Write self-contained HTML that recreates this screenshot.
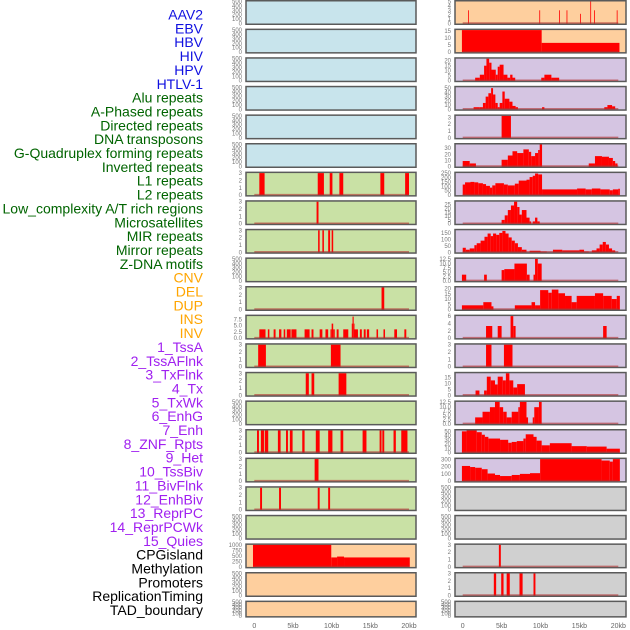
<!DOCTYPE html>
<html><head><meta charset="utf-8">
<style>
html,body{margin:0;padding:0;background:#fff;width:630px;height:630px;overflow:hidden}
svg{display:block}
</style></head>
<body>
<svg id="chart" width="630" height="630" xmlns="http://www.w3.org/2000/svg"></svg>
<script>
// ---- labels ----
const labelNames = ["AAV2","EBV","HBV","HIV","HPV","HTLV-1","Alu repeats","A-Phased repeats","Directed repeats","DNA transposons","G-Quadruplex forming repeats","Inverted repeats","L1 repeats","L2 repeats","Low_complexity A/T rich regions","Microsatellites","MIR repeats","Mirror repeats","Z-DNA motifs","CNV","DEL","DUP","INS","INV","1_TssA","2_TssAFlnk","3_TxFlnk","4_Tx","5_TxWk","6_EnhG","7_Enh","8_ZNF_Rpts","9_Het","10_TssBiv","11_BivFlnk","12_EnhBiv","13_ReprPC","14_ReprPCWk","15_Quies","CPGisland","Methylation","Promoters","ReplicationTiming","TAD_boundary"];
const labelGroups = ["v","v","v","v","v","v","r","r","r","r","r","r","r","r","r","r","r","r","r","s","s","s","s","s","c","c","c","c","c","c","c","c","c","c","c","c","c","c","c","o","o","o","o","o"];
const xTickValues = [0,5,10,15,20];
const xTickLabels = ["0","5kb","10kb","15kb","20kb"];

// ---- left column data: [startKb, endKb, value] ----
const L6 = [[0.65,1.33,3],[8.2,9.0,3],[9.75,10.1,3],[11.0,11.5,3],[16.3,16.8,3],[19.5,20.0,3]];
const L7 = [[8.05,8.3,3]];
const L8 = [[8.25,8.45,3],[8.8,9.0,3],[9.55,9.8,3],[10.0,10.2,3]];
const L10 = [[16.45,16.8,3]];
const L11 = [[0.65,1.45,3.5],[1.75,1.95,3.5],[2.5,2.75,3.5],[3.2,3.5,3.5],[3.8,4.0,3.5],[4.2,4.7,3.5],[4.8,5.45,3.5],[6.5,7.15,3.5],[7.4,7.65,3.5],[8.45,8.8,3.5],[9.2,9.55,3.5],[9.85,10.0,3.5],[10.0,10.2,5.8],[10.2,10.4,3.5],[10.65,10.9,3.5],[11.5,12.15,3.5],[12.6,12.7,5.8],[12.7,12.85,8.6],[12.85,12.95,5.8],[12.95,13.4,3.5],[13.65,13.9,3.5],[14.15,14.4,3.5],[14.55,14.85,3.5],[15.8,16.0,3.5],[16.7,16.9,3.5],[18.1,18.45,3.5],[19.4,19.65,3.5]];
const L12 = [[0.5,1.5,3],[9.9,11.15,3]];
const L13 = [[6.65,7.05,3],[7.4,7.75,3],[10.9,11.9,3]];
const L15 = [[0.35,0.6,3],[0.85,1.25,3],[1.35,1.8,3],[3.05,3.4,3],[4.1,4.35,3],[4.6,4.95,3],[6.2,6.5,3],[7.95,8.45,3],[9.55,10.1,3],[11.15,11.5,3],[14.0,14.5,3],[16.2,16.45,3],[16.55,16.8,3],[18.0,18.3,3],[19.0,19.8,3]];
const L16 = [[7.8,8.3,3]];
const L17 = [[0.75,1.0,3],[3.2,3.45,3],[8.2,8.45,3],[9.55,9.8,3]];
const L19 = [[-0.17,9.95,1000],[9.95,10.7,430],[10.7,11.6,470],[11.6,20.1,430]];

// ---- right column data ----
const R0 = [[0.7,0.8,3],[9.85,9.95,3],[12.4,12.5,3],[13.35,13.45,3],[15.1,15.2,2.2],[16.4,16.5,5],[16.9,17.0,3],[19.8,19.9,3]];
const R1 = [[-0.1,10.15,15.5],[10.15,20.15,6.5]];
const R2 = [[1.6,2.2,3],[2.2,2.75,6],[2.75,3.05,15],[3.05,3.4,22],[3.4,3.7,18],[3.7,4.25,11],[4.25,4.5,6],[4.5,4.75,14],[4.75,5.25,16],[5.25,5.75,6],[5.75,6.1,3],[6.1,6.4,6],[6.4,6.75,3],[10.1,10.5,3],[10.5,11.4,6],[11.4,12.4,3]];
const R3 = [[1.4,2.2,5],[2.2,2.6,5],[2.6,2.95,15],[2.95,3.3,30],[3.3,3.65,38],[3.65,3.9,50],[3.9,4.2,35],[4.2,4.5,15],[4.5,4.75,5],[4.75,5.1,15],[5.1,5.4,42],[5.4,6.0,25],[6.0,6.4,18],[6.4,6.8,8],[6.8,7.1,5],[10.2,10.5,5],[18.2,18.6,5],[18.6,19.2,10],[19.2,19.6,7]];
const R4 = [[5.0,6.2,3.2]];
const R5 = [[0,0.9,9],[0.9,1.7,5],[5.0,5.8,11],[5.8,6.4,18],[6.4,7.0,25],[7.0,7.8,22],[7.8,8.5,28],[8.5,8.8,24],[8.8,9.3,17],[9.3,9.7,22],[9.7,9.9,27],[9.9,10.2,36],[16.2,17.0,5],[17.0,17.9,17],[17.9,18.8,16],[18.8,19.3,14],[19.3,19.6,9],[19.6,19.9,5]];
const R6 = [[0,0.3,120],[0.3,1.0,145],[1.0,1.5,150],[1.5,2.0,145],[2.0,2.6,135],[2.6,3.0,125],[3.0,3.5,105],[3.5,3.8,85],[3.8,4.2,110],[4.2,5.3,135],[5.3,5.8,120],[5.8,6.7,110],[6.7,7.2,130],[7.2,8.2,165],[8.2,8.6,175],[8.6,9.0,205],[9.0,9.3,220],[9.3,9.7,245],[9.7,10.2,235],[10.2,14.7,65],[14.7,15.8,75],[15.8,16.6,65],[16.6,17.7,75],[17.7,18.9,65],[18.9,19.3,55],[19.3,20.0,65],[20.0,20.2,72]];
const R7 = [[5.0,5.4,5],[5.4,5.8,11],[5.8,6.2,18],[6.2,6.6,24],[6.6,7.0,29],[7.0,7.3,22],[7.3,7.6,12],[7.6,8.2,18],[8.2,8.6,8],[8.6,8.8,3],[9.0,9.3,3],[9.3,9.6,8],[9.6,9.9,3]];
const R8 = [[0,0.4,35],[0.4,0.9,20],[0.9,1.5,30],[1.5,1.8,55],[1.8,2.3,70],[2.3,2.8,90],[2.8,3.2,120],[3.2,3.6,145],[3.6,3.9,125],[3.9,4.3,145],[4.3,4.7,135],[4.7,5.1,150],[5.1,5.5,165],[5.5,5.9,145],[5.9,6.3,115],[6.3,6.7,90],[6.7,7.1,70],[7.1,7.6,40],[7.6,8.2,20],[8.6,10.0,12],[10.0,10.8,5],[11.6,12.8,20],[12.8,15.0,15],[15.0,15.6,20],[15.6,16.2,5],[16.6,17.2,15],[17.2,17.6,30],[17.6,18.0,60],[18.0,18.4,80],[18.4,18.8,60],[18.8,19.2,30],[19.2,19.6,15]];
const R9 = [[-0.1,0.45,3.6],[2.75,3.1,3.6],[5.0,5.35,6.25],[5.35,6.65,6.8],[6.65,8.25,10],[8.25,8.6,3.6],[9.1,9.3,3.6],[9.3,9.65,12.7],[9.65,10.15,10]];
const R10 = [[-0.1,2.65,4],[2.65,3.7,7],[3.7,3.95,3],[6.7,8.85,4],[8.85,9.3,7],[9.3,9.95,4],[9.95,11.0,18.5],[11.0,11.45,16],[11.45,12.3,19],[12.3,13.15,15.5],[13.15,14.0,13],[14.0,14.65,7],[14.65,17.0,13],[17.0,18.05,15.5],[18.05,19.15,13],[19.15,19.8,10],[19.8,20.2,13]];
const R11 = [[3.0,3.8,3.3],[4.5,5.0,3.3],[6.15,6.5,6],[6.5,6.8,3.3],[18.05,18.5,3.3]];
const R12 = [[3.0,3.7,3],[5.3,6.4,3]];
const R13 = [[1.65,2.15,4],[2.75,3.1,4],[3.1,3.6,15.5],[3.6,4.15,12.4],[4.15,4.5,9],[4.5,5.15,15.5],[5.15,5.55,12.4],[5.55,6.0,18.3],[6.0,6.5,12.4],[6.5,7.0,6.5],[7.0,8.0,9.3]];
const R14 = [[1.6,2.55,3.7],[2.55,3.5,6.9],[3.5,4.15,9.5],[4.15,4.75,12.5],[4.75,5.2,9.5],[5.2,5.65,6.9],[5.65,6.3,3.7],[6.3,7.15,6.9],[7.15,7.35,9.5],[7.35,8.2,12.5],[8.2,8.4,3.7],[9.0,9.2,3.7],[9.2,9.8,9.5],[9.8,10.15,12.5]];
const R15 = [[-0.1,0.5,50],[0.5,1.8,52],[1.8,2.45,48],[2.45,2.85,42],[2.85,3.3,37],[3.3,4.8,33],[4.8,5.85,30],[5.85,6.3,23],[6.3,6.95,25],[6.95,7.8,27],[7.8,8.1,33],[8.1,9.1,43],[9.1,9.5,37],[9.5,10.15,28],[10.15,11.2,17],[11.2,14.0,22],[14.0,15.95,15],[15.95,18.5,14],[18.5,20.2,9]];
const R16 = [[-0.1,0.95,210],[0.95,1.6,195],[1.6,2.45,185],[2.45,3.2,165],[3.2,4.15,105],[4.15,4.8,85],[4.8,6.3,70],[6.3,7.35,85],[7.35,8.65,100],[8.65,9.95,110],[9.95,17.85,305],[17.85,18.9,285],[18.9,19.3,270],[19.3,20.2,305]];
const R19 = [[4.65,4.9,3]];
const R20 = [[4.0,4.3,3],[4.95,5.25,3],[5.65,6.05,3],[7.3,7.7,3],[9.1,9.35,3]];

// ---- axis tick sets ----
const t500 = [0,100,200,300,400,500];
const t3 = [0,1,2,3];
const t5 = [0,1,2,3,4,5];
const t15 = [0,5,10,15];
const t20 = [0,5,10,15,20];
const t50 = [0,10,20,30,40,50];
const t30 = [0,10,20,30];
const t250 = [0,50,100,150,200,250];
const t25 = [0,5,10,15,20,25];
const t150 = [0,50,100,150];
const t125 = [0,2.5,5.0,7.5,10.0,12.5];
const t75 = [0,2.5,5.0,7.5];
const t6 = [0,2,4,6];
const t1000 = [0,250,500,750,1000];
const t300 = [0,100,200,300];

const BLUE="#c8e4ec", GREEN="#c9e1a5", ORANGE="#fecf9e", PURPLE="#d5c5e2", GRAY="#d0d0d0";
const leftTracks = [
 [null,500,t500,BLUE],[null,500,t500,BLUE],[null,500,t500,BLUE],[null,500,t500,BLUE],[null,500,t500,BLUE],[null,500,t500,BLUE],
 [L6,3,t3,GREEN],[L7,3,t3,GREEN],[L8,3,t3,GREEN],[null,500,t500,GREEN],[L10,3,t3,GREEN],[L11,8.8,t75,GREEN],
 [L12,3,t3,GREEN],[L13,3,t3,GREEN],[null,500,t500,GREEN],[L15,3,t3,GREEN],[L16,3,t3,GREEN],[L17,3,t3,GREEN],[null,500,t500,GREEN],
 [L19,1000,t1000,ORANGE],[null,500,t500,ORANGE],[null,500,t500,ORANGE]];
const rightTracks = [
 [R0,5,t5,ORANGE],[R1,15.5,t15,ORANGE],
 [R2,22,t20,PURPLE],[R3,52,t50,PURPLE],[R4,3.2,t3,PURPLE],[R5,36,t30,PURPLE],[R6,250,t250,PURPLE],[R7,29,t25,PURPLE],[R8,170,t150,PURPLE],
 [R9,12.7,t125,PURPLE],[R10,21,t20,PURPLE],[R11,6,t6,PURPLE],[R12,3,t3,PURPLE],[R13,18.3,t15,PURPLE],[R14,12.5,t125,PURPLE],[R15,52,t50,PURPLE],[R16,305,t300,PURPLE],
 [null,500,t500,GRAY],[null,500,t500,GRAY],[R19,3,t3,GRAY],[R20,3,t3,GRAY],[null,500,t500,GRAY]];

const NS="http://www.w3.org/2000/svg";
const svg=document.getElementById('chart');
function mk(tag,attrs,parent){const e=document.createElementNS(NS,tag);for(const k in attrs)e.setAttribute(k,attrs[k]);(parent||svg).appendChild(e);return e;}
const groupColor={v:"#1010e0",r:"#006400",s:"#ffa500",c:"#a020f0",o:"#000000"};

// labels
labelNames.forEach((n,i)=>{
  const t=mk('text',{x:203,y:19.5+i*13.85,'text-anchor':'end','font-size':'14','font-family':'Liberation Sans, sans-serif',fill:groupColor[labelGroups[i]]});
  t.textContent=n;
  
  
});

function drawColumn(tracks,px0,px1,x0px,x20px,side){
  const xs=kb=>x0px+(x20px-x0px)*kb/20;
  tracks.forEach((tr,i)=>{
    const [data,ymax,ticks,bg]=tr;
    const top=i*28.6, h=(i===21?17:25), bot=top+h;
    const g=mk('g',{});
    
    
    const r=mk('rect',{x:px0,y:top+0.75,width:px1-px0,height:h-1.5,fill:bg,stroke:'#5a5a5a','stroke-width':1.5},g);
    
    
    const y0=bot-1.5, y1=top+1.5;
    const ys=v=>y0-(y0-y1)*v/ymax;
    ticks.forEach(tv=>{
      const t=mk('text',{x:px0-4,y:ys(tv)+2,'text-anchor':'end','font-size':'6','font-family':'Liberation Sans, sans-serif',fill:'#777'},g);
      t.textContent=(ticks===t125||ticks===t75)?tv.toFixed(1):String(tv);
      
      
    });
    if(data){
      data.forEach(d=>{
        const b=mk('rect',{x:xs(d[0]),y:ys(d[2]),width:Math.max(0.8,xs(d[1])-xs(d[0])),height:y0-ys(d[2]),fill:'#ff0000'},g);
        
        
      });
      const bl=mk('line',{x1:xs(0),x2:xs(20),y1:y0-0.5,y2:y0-0.5,stroke:'#b03030','stroke-opacity':0.6,'stroke-width':1.5},g);
      
      
    }
  });
  xTickValues.forEach((v,k)=>{
    const t=mk('text',{x:xs(v),y:628,'text-anchor':'middle','font-size':'7','font-family':'Liberation Sans, sans-serif',fill:'#666'});
    t.textContent=xTickLabels[k];
    
    
  });
}
drawColumn(leftTracks,246,416,254.3,409,'left');
drawColumn(rightTracks,455,626,462.7,618.3,'right');
</script>
</body></html>
